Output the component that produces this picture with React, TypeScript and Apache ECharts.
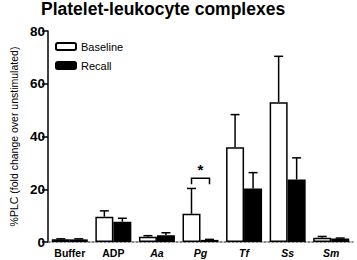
import React, { useEffect, useRef } from "react";
import * as echarts from "echarts";

const categories = ["Buffer", "ADP", "Aa", "Pg", "Tf", "Ss", "Sm"];
const italicCats = ["Aa", "Pg", "Tf", "Ss", "Sm"];
const baseline = [1, 9.6, 2.0, 10.7, 35.9, 53.0, 1.6];
const baselineErr = [0.2, 2.2, 0.4, 9.6, 12.4, 17.4, 0.5];
const recall = [1, 7.7, 2.6, 0.8, 20.3, 23.7, 1.3];
const recallErr = [0.2, 1.3, 0.9, 0.2, 6.0, 8.2, 0.2];
const yTicks = [0, 20, 40, 60, 80];
const sigCategory = 3;
const sigLevel = 24.2;

const FONT = "Liberation Sans, Arial, Helvetica, sans-serif";

export default function App() {
  const ref = useRef<HTMLDivElement>(null);
  useEffect(() => {
    if (!ref.current) return;
    const chart = echarts.init(ref.current, null, { renderer: "svg" });
    const half = 9;
    const errData = [
      ...baseline.map((v, i) => [i, v, baselineErr[i], -half]),
      ...recall.map((v, i) => [i, v, recallErr[i], half]),
    ];
    chart.setOption({
      animation: false,
      textStyle: { fontFamily: FONT },
      title: {
        text: "Platelet-leukocyte complexes",
        left: 41,
        top: 0,
        padding: 0,
        textStyle: { fontSize: 17.5, fontWeight: "bold", color: "#000", fontFamily: FONT },
      },
      legend: {
        data: ["Baseline", "Recall"],
        orient: "vertical",
        left: 50,
        top: 36,
        itemWidth: 20,
        itemHeight: 7,
        itemGap: 8,
        textStyle: { fontSize: 11, color: "#000", fontFamily: FONT },
      },
      grid: { left: 41, right: 4, top: 31, bottom: 18 },
      xAxis: {
        type: "category",
        data: categories,
        axisTick: { show: false },
        axisLine: { show: true, lineStyle: { color: "#666", width: 1.5, type: [2, 2] } },
        axisLabel: {
          fontSize: 10.5,
          fontWeight: "bold",
          color: "#000",
          margin: 5,
          fontFamily: FONT,
          formatter: (v: string) => (italicCats.includes(v) ? `{i|${v}}` : v),
          rich: {
            i: { fontStyle: "italic", fontWeight: "bold", fontSize: 10.5, color: "#000", fontFamily: FONT },
          },
        },
      },
      yAxis: {
        type: "value",
        min: yTicks[0],
        max: yTicks[yTicks.length - 1],
        interval: 20,
        name: "%PLC (fold change over unstimulated)",
        nameLocation: "middle",
        nameGap: 29,
        nameTextStyle: { fontSize: 10.5, color: "#000", fontFamily: FONT },
        axisLine: { show: true, lineStyle: { color: "#000", width: 1.5 } },
        axisTick: { show: true, length: 6, lineStyle: { color: "#000", width: 1.5 } },
        axisLabel: { fontSize: 13.5, fontWeight: "bold", color: "#000", margin: 3, fontFamily: FONT },
        splitLine: { show: false },
      },
      series: [
        {
          name: "Baseline",
          type: "bar",
          data: baseline,
          barWidth: 18,
          barGap: "0%",
          itemStyle: { color: "#fff", borderColor: "#000", borderWidth: 1.5 },
          z: 2,
        },
        {
          name: "Recall",
          type: "bar",
          data: recall,
          barWidth: 18,
          barGap: "0%",
          itemStyle: { color: "#000", borderColor: "#000", borderWidth: 1.5 },
          z: 2,
        },
        {
          type: "custom",
          data: errData,
          z: 3,
          silent: true,
          renderItem: (params: any, api: any) => {
            const cat = api.value(0);
            const top = api.value(1);
            const err = api.value(2);
            const off = api.value(3);
            const p0 = api.coord([cat, top]);
            const p1 = api.coord([cat, top + err]);
            const x = p0[0] + off;
            const style = { stroke: "#000", lineWidth: 1.5 };
            return {
              type: "group",
              children: [
                { type: "line", shape: { x1: x, y1: p0[1], x2: x, y2: p1[1] }, style },
                { type: "line", shape: { x1: x - 4.5, y1: p1[1], x2: x + 4.5, y2: p1[1] }, style },
              ],
            };
          },
        },
        {
          type: "custom",
          data: [[sigCategory, sigLevel]],
          z: 3,
          silent: true,
          renderItem: (params: any, api: any) => {
            const p = api.coord([api.value(0), api.value(1)]);
            const x = p[0];
            const y = p[1];
            return {
              type: "group",
              children: [
                {
                  type: "polyline",
                  shape: {
                    points: [
                      [x - half, y + 6],
                      [x - half, y],
                      [x + half, y],
                      [x + half, y + 6],
                    ],
                  },
                  style: { stroke: "#000", lineWidth: 1.5, fill: "none" },
                },
                {
                  type: "text",
                  x: x,
                  y: y - 1,
                  style: {
                    text: "*",
                    fontSize: 15,
                    fontWeight: "bold",
                    fill: "#000",
                    align: "center",
                    verticalAlign: "bottom",
                    fontFamily: FONT,
                  },
                },
              ],
            };
          },
        },
      ],
    });
    return () => chart.dispose();
  }, []);
  return <div ref={ref} style={{ width: 357, height: 260, position: "absolute", left: 0, top: 0 }} />;
}
